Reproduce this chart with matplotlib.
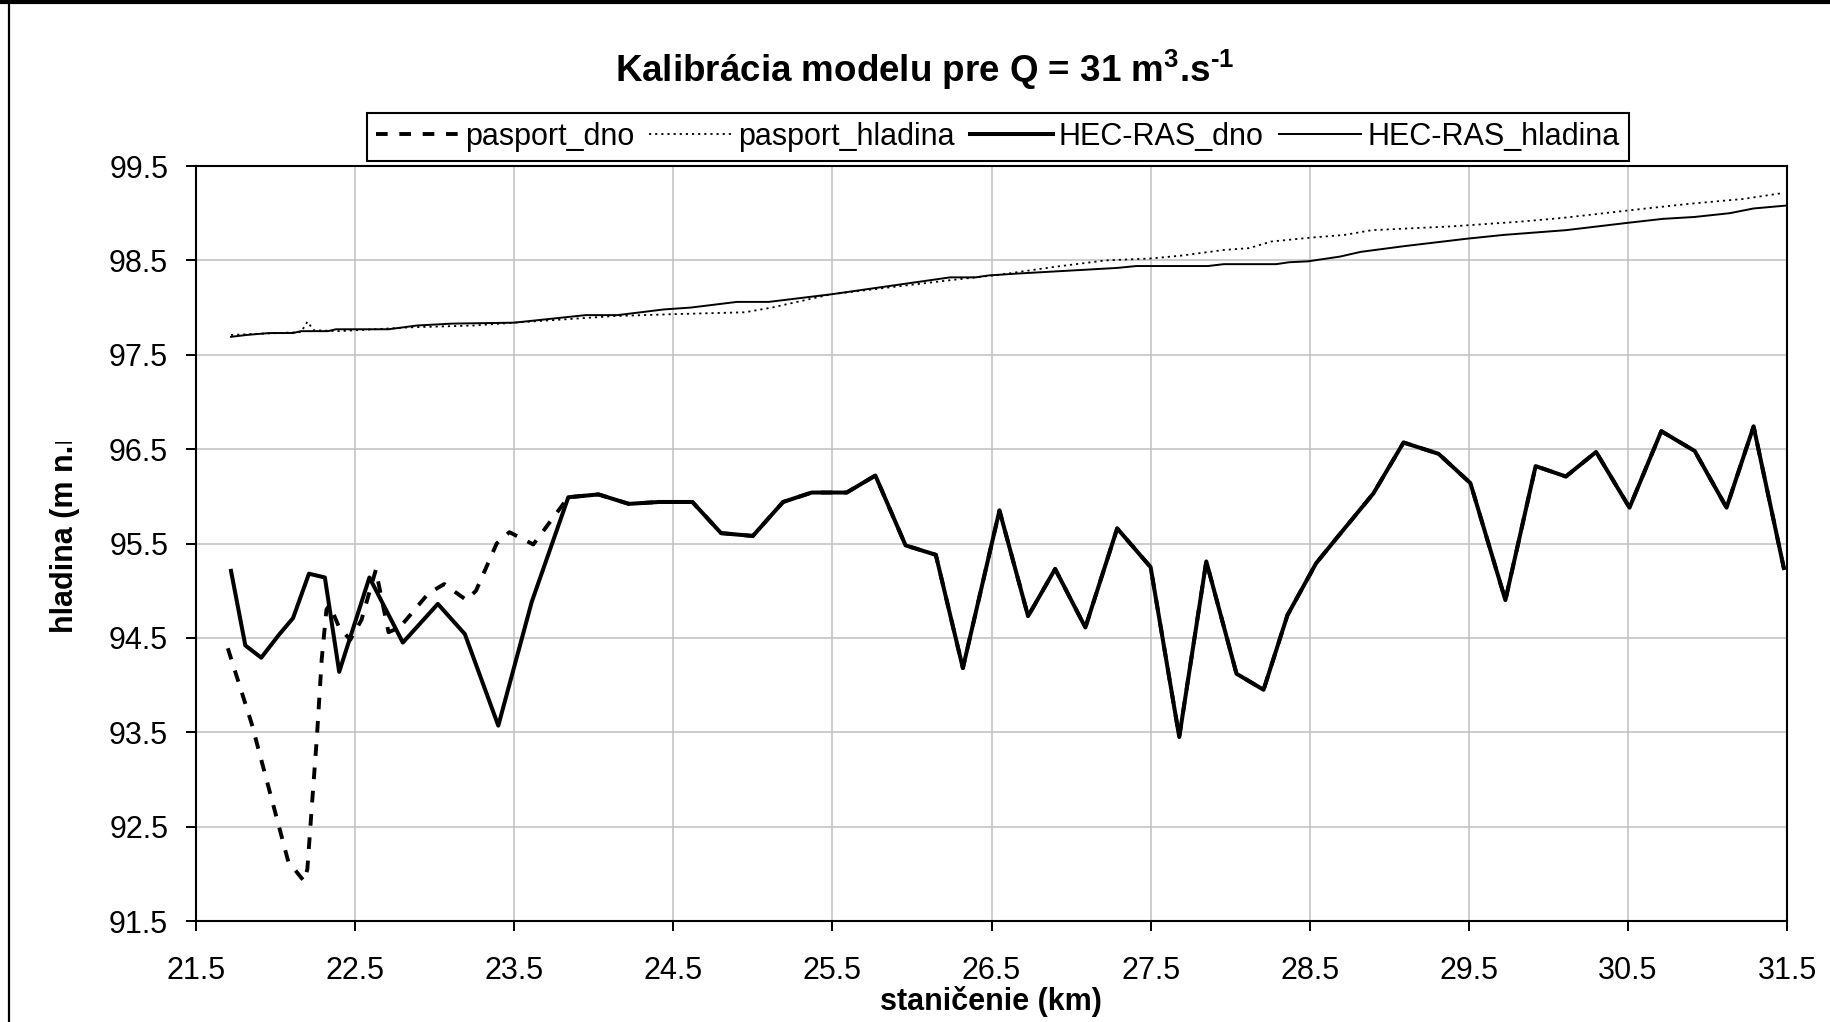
import matplotlib
matplotlib.use('Agg')
import matplotlib.pyplot as plt
from matplotlib.lines import Line2D
from matplotlib.transforms import Bbox

plt.rcParams['font.family'] = ['Liberation Sans', 'DejaVu Sans']
plt.rcParams['mathtext.fontset'] = 'custom'
plt.rcParams['mathtext.rm'] = 'Liberation Sans'
plt.rcParams['mathtext.bf'] = 'Liberation Sans:bold'

# HEC-RAS dno (staničenie km, kóta m n.m.)
hec_dno_km = [21.72, 21.81, 21.91, 22.02, 22.11, 22.21, 22.31, 22.40, 22.59, 22.80,
              23.02, 23.19, 23.40, 23.61, 23.84, 24.03, 24.22, 24.41, 24.62, 24.80,
              25.00, 25.19, 25.37, 25.59, 25.77, 25.96, 26.15, 26.32, 26.55, 26.73,
              26.90, 27.09, 27.29, 27.50, 27.68, 27.85, 28.04, 28.21, 28.36, 28.54,
              28.69, 28.90, 29.09, 29.31, 29.51, 29.73, 29.92, 30.11, 30.30, 30.51,
              30.71, 30.92, 31.12, 31.29, 31.48]
hec_dno = [95.21, 94.42, 94.29, 94.53, 94.71, 95.18, 95.14, 94.14, 95.14, 94.45,
           94.86, 94.54, 93.57, 94.88, 95.99, 96.02, 95.92, 95.94, 95.94, 95.61,
           95.58, 95.94, 96.04, 96.04, 96.22, 95.48, 95.38, 94.18, 95.85, 94.73,
           95.23, 94.61, 95.66, 95.25, 93.45, 95.31, 94.12, 93.95, 94.74, 95.29,
           95.60, 96.03, 96.57, 96.45, 96.14, 94.90, 96.32, 96.21, 96.47, 95.88,
           96.69, 96.48, 95.88, 96.74, 95.24]

# pasport dno - zaciatok sa lisi, od 23.84 km je zhodny s HEC-RAS
pasport_dno_start_km = [21.70, 21.85, 22.08, 22.18, 22.20, 22.23, 22.26, 22.29, 22.32, 22.34,
                        22.40, 22.47, 22.54, 22.63, 22.71, 22.78, 22.96, 23.06, 23.20, 23.26,
                        23.39, 23.47, 23.62]
pasport_dno_start = [94.39, 93.59, 92.13, 91.92, 92.05, 92.76, 93.45, 94.27, 94.80, 94.85,
                     94.61, 94.48, 94.69, 95.22, 94.56, 94.61, 94.97, 95.07, 94.90, 95.00,
                     95.50, 95.62, 95.49]
pasport_dno_km = pasport_dno_start_km + hec_dno_km[14:]
pasport_dno = pasport_dno_start + hec_dno[14:]

# HEC-RAS hladina
hec_hl_km = [21.72, 21.82, 21.96, 22.11, 22.16, 22.33, 22.38, 22.71, 22.89, 23.11,
             23.50, 23.95, 24.15, 24.44, 24.61, 24.90, 25.10, 25.49, 26.24, 26.40,
             26.48, 26.66, 27.29, 27.41, 27.86, 27.96, 28.29, 28.37, 28.49, 28.69,
             28.82, 29.09, 29.49, 29.72, 30.11, 30.51, 30.72, 30.92, 31.14, 31.29, 31.49]
hec_hl = [97.69, 97.71, 97.73, 97.73, 97.75, 97.75, 97.77, 97.77, 97.81, 97.83,
          97.84, 97.92, 97.92, 97.98, 98.00, 98.06, 98.06, 98.14, 98.32, 98.32,
          98.34, 98.36, 98.42, 98.44, 98.44, 98.46, 98.46, 98.48, 98.49, 98.54,
          98.59, 98.65, 98.73, 98.77, 98.82, 98.90, 98.94, 98.96, 99.00, 99.05, 99.08]

# pasport hladina
pasport_hl_km = [21.72, 22.16, 22.20, 22.24, 22.40, 22.84, 23.25, 23.50, 23.86, 24.13,
                 24.50, 24.95, 25.12, 25.49, 26.24, 26.56, 26.89, 27.22, 27.50, 27.69,
                 27.96, 28.12, 28.26, 28.50, 28.72, 28.89, 29.39, 29.82, 30.09, 30.56,
                 30.89, 31.22, 31.46]
pasport_hl = [97.71, 97.74, 97.85, 97.76, 97.75, 97.79, 97.81, 97.84, 97.88, 97.91,
              97.93, 97.95, 98.00, 98.14, 98.29, 98.35, 98.43, 98.50, 98.52, 98.55,
              98.61, 98.63, 98.70, 98.74, 98.77, 98.82, 98.86, 98.91, 98.95, 99.04,
              99.10, 99.15, 99.21]

xticks = [21.5, 22.5, 23.5, 24.5, 25.5, 26.5, 27.5, 28.5, 29.5, 30.5, 31.5]
yticks = [91.5, 92.5, 93.5, 94.5, 95.5, 96.5, 97.5, 98.5, 99.5]

W, H = 1831, 1022
fig = plt.figure(figsize=(W / 100, H / 100), dpi=100)
ax = fig.add_axes([196 / W, 1 - 921 / H, (1787 - 196) / W, (921 - 166) / H])

ax.plot(pasport_dno_km, pasport_dno, color='black', lw=2.8, dashes=(3, 3),
        label='pasport_dno')
ax.plot(pasport_hl_km, pasport_hl, color='black', lw=1.3, dashes=(1.2, 2.2),
        label='pasport_hladina')
ax.plot(hec_dno_km, hec_dno, color='black', lw=2.9, label='HEC-RAS_dno')
ax.plot(hec_hl_km, hec_hl, color='black', lw=1.4, label='HEC-RAS_hladina')

ax.set_xlim(21.5, 31.5)
ax.set_ylim(91.5, 99.5)
ax.set_xticks(xticks)
ax.set_yticks(yticks)
ax.set_xticklabels([f'{v:.1f}' for v in xticks])
ax.set_yticklabels([f'{v:.1f}' for v in yticks])
ax.tick_params(axis='both', labelsize=22, length=7, width=1.4, direction='out')
ax.tick_params(axis='x', pad=18)
ax.tick_params(axis='y', pad=13)
ax.grid(True, color='#c0c0c0', lw=1.1)
ax.set_axisbelow(True)
for s in ax.spines.values():
    s.set_linewidth(1.5)
    s.set_color('black')

fig.text(925 / W, 1 - 70 / H,
         'Kalibrácia modelu pre Q = 31 m$^{\\mathbf{3}}$.s$^{\\mathbf{\u20101}}$',
         ha='center', va='center', fontsize=26.5, fontweight='bold')

fig.legend(loc='center', bbox_to_anchor=(998 / W, 1 - 137 / H), ncol=4,
           fontsize=22, frameon=True, fancybox=False, edgecolor='black',
           framealpha=1, handlelength=2.7, handletextpad=0.2, columnspacing=0.5,
           borderpad=0.3, borderaxespad=0).get_frame().set_linewidth(1.5)

fig.text(991 / W, 1 - 1001 / H, 'staničenie (km)', ha='center', va='center',
         fontsize=22, fontweight='bold')

# popis osi y je v originale orezany zhora
ylab = fig.text(65 / W, 1 - 633 / H, 'hladina (m n.m.)', rotation=90,
                ha='center', va='bottom', fontsize=22, fontweight='bold')
ylab.set_clip_box(Bbox.from_extents(0, 0, W, H - 442))
ylab.set_clip_on(True)

# ramik grafu (vlavo a hore)
fig.add_artist(Line2D([9 / W, 9 / W], [0, 1], transform=fig.transFigure,
                      color='black', lw=1.6))
fig.add_artist(Line2D([0, 1], [1 - 2 / H, 1 - 2 / H], transform=fig.transFigure,
                      color='black', lw=3))

fig.savefig('out.png', dpi=100)
